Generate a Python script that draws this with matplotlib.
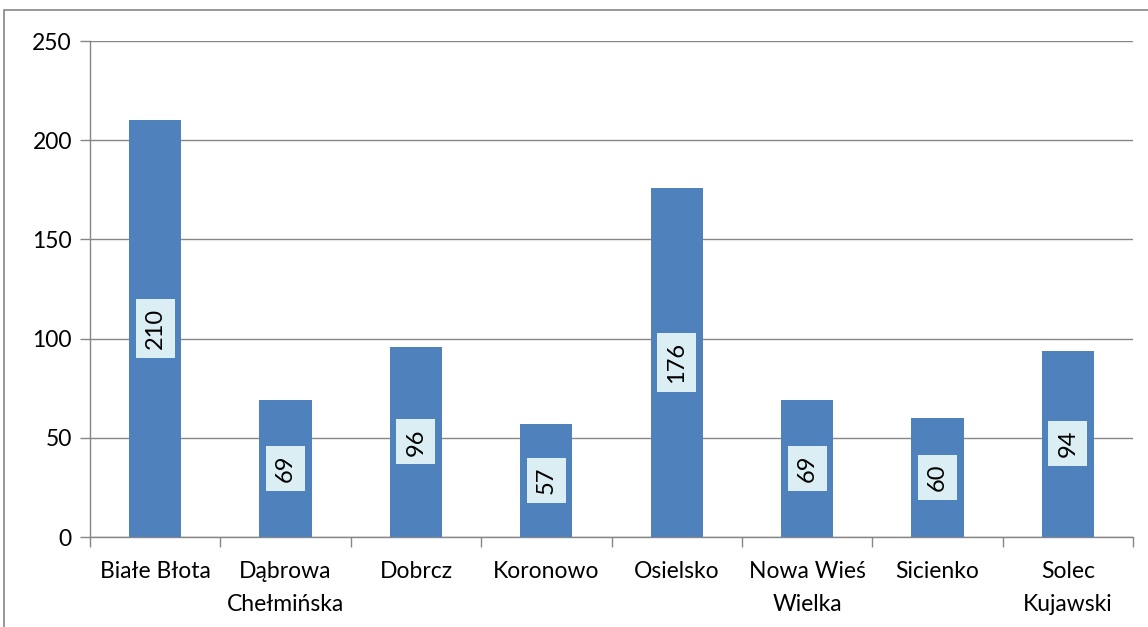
import numpy as np
import matplotlib.pyplot as plt
from matplotlib.patches import Rectangle

gminy = ['Białe Błota', 'Dąbrowa\nChełmińska', 'Dobrcz', 'Koronowo', 'Osielsko',
         'Nowa Wieś\nWielka', 'Sicienko', 'Solec\nKujawski']
liczba = [210, 69, 96, 57, 176, 69, 60, 94]
y_ticks = [0, 50, 100, 150, 200, 250]

plt.rcParams['font.family'] = ['Lato', 'DejaVu Sans']
grey = '#868686'

fig = plt.figure(figsize=(11.48, 6.27), dpi=100)
# chart frame
fig.patches.append(Rectangle((4 / 1148, -0.1), 1.2, 0.984 + 0.1, transform=fig.transFigure,
                             fill=False, edgecolor=grey, linewidth=1.2))
ax = fig.add_axes([90 / 1148, 90 / 627, 1043 / 1148, 496 / 627])

x = np.arange(len(gminy))
ax.bar(x, liczba, width=0.4, color='#4f81bd', zorder=3)
for xi, v in zip(x, liczba):
    ax.text(xi, v / 2, str(v), rotation=90, ha='center', va='center', fontsize=17,
            zorder=4, bbox=dict(boxstyle='square,pad=0.38', facecolor='#dbeef4', edgecolor='none'))

ax.set_xlim(-0.5, len(gminy) - 0.5)
ax.set_ylim(0, 250)
ax.set_yticks(y_ticks)
ax.yaxis.grid(True, color=grey, linewidth=1, zorder=0)
ax.set_xticks(x)
ax.set_xticklabels(gminy, fontsize=16.5, linespacing=1.7, va='top')
ax.set_xticks(np.arange(len(gminy) + 1) - 0.5, minor=True)
ax.tick_params(axis='x', which='major', length=0, pad=17)
ax.tick_params(axis='x', which='minor', length=7, color=grey, width=1)
ax.tick_params(axis='y', length=7, color=grey, width=1, labelsize=16.5, pad=6)
for s in ['top', 'right']:
    ax.spines[s].set_visible(False)
for s in ['left', 'bottom']:
    ax.spines[s].set_color(grey)
    ax.spines[s].set_linewidth(1)

fig.savefig('out.png', dpi=100)
